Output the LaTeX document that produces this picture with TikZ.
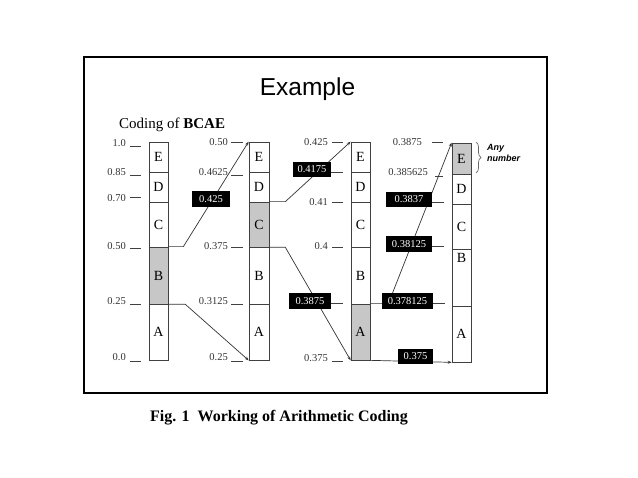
\documentclass[tikz,border=0pt]{standalone}
\usepackage{fontspec}
\setmainfont{Liberation Serif}
\newfontfamily\sansf{Liberation Sans}
\usetikzlibrary{arrows.meta,calc,decorations.pathreplacing}

\begin{document}
\begin{tikzpicture}[x=1pt,y=-1pt,
  seg/.style={draw=black!75,line width=0.7pt,inner sep=0pt,font=\fontsize{14}{16}\selectfont},
  val/.style={anchor=east,inner sep=0pt,text=black!80,font=\fontsize{10.5}{12}\selectfont},
  blk/.style={fill=black,text=white,inner sep=0pt,minimum height=15.5pt,font=\fontsize{10.5}{12}\selectfont},
  tick/.style={black!75,line width=0.7pt},
  arr/.style={black!80,line width=0.7pt,-{Stealth[length=4pt,width=3pt]}}]
\useasboundingbox (0,0) rectangle (638,478);
\draw[line width=2pt] (83.5,57) rectangle (547,393);
\node[font=\sansf\fontsize{24.5}{28}\selectfont] (title) at (307.5,89) {Example};
\node[anchor=west,inner sep=0pt,font=\fontsize{15}{18}\selectfont] (head) at (119,125) {Coding of \textbf{BCAE}};
% the four intervals
\foreach \c/\x/\w/\s in {1/158.5/19/B,2/259/20/C,3/360.5/19/A} {
  \foreach \n/\t/\b in {E/142/172,D/172/202,C/202/247,B/247/304,A/304/360} {
    \pgfmathsetmacro\h{\b-\t}
    \ifx\n\s \def\f{black!22}\else\def\f{white}\fi
    \node[seg,fill=\f,minimum width=\w pt,minimum height=\h pt] (c\c\n) at (\x,{(\t+\b)/2}) {\n};
  }
}
\node[seg,fill=black!22,minimum width=19pt,minimum height=31pt] (c4E) at (461.5,158.5) {E};
\node[seg,minimum width=19pt,minimum height=30pt] (c4D) at (461.5,189) {D};
\node[seg,minimum width=19pt,minimum height=45pt] (c4C) at (461.5,226.5) {C};
\node[seg,minimum width=19pt,minimum height=57pt,text height=12pt,text depth=41pt,inner ysep=2pt] (c4B) at (461.5,277.5) {B};
\node[seg,minimum width=19pt,minimum height=56pt] (c4A) at (461.5,334) {A};
% scale values
\foreach \t/\y/\d [count=\i] in {1.0/143/146,0.85/172/175,0.70/198/197,0.50/246/248,0.25/301/304,0.0/357/361} {
  \node[val] (v1\i) at (126,\y) {\t};
  \draw[tick] (130,\d) -- (141,\d);
}
\foreach \t/\y/\d [count=\i] in {0.50/142/142,0.4625/172/175,0.375/246/247,0.3125/301/304,0.25/357/361} {
  \node[val] (v2\i) at (228,\y) {\t};
  \draw[tick] (231,\d) -- (243,\d);
}
\foreach \t/\y/\d [count=\i] in {0.425/142/142,0.41/202/202,0.4/246/247,0.375/358/361} {
  \node[val] (v3\i) at (328,\y) {\t};
  \draw[tick] (332,\d) -- (343,\d);
}
\node[val] (v41) at (422,142) {0.3875};
\draw[tick] (432,142) -- (443,142);
\node[val] (v42) at (428,172) {0.385625};
\draw[tick] (435,176) -- (443,176);
\foreach \y/\a/\b in {172/331/343,303/331/343,202/432/444,246/432/444,303/433/445} \draw[tick] (\a,\y) -- (\b,\y);
% mapping of the chosen interval
\draw[arr] (c1B.north east) -- ++(15,0) -- (c2E.north west);
\draw[arr] (c1B.south east) -- ++(17,0) -- (c2A.south west);
\draw[arr] (c2C.north east) -- ++(16,0) -- (c3E.north west);
\draw[arr] (c2C.south east) -- ++(16,0) -- (c3A.south west);
\draw[arr] (c3A.north east) -- ++(18,0) -- (c4E.north west);
\draw[arr] (c3A.south east) -- (c4A.south west);
% tags
\node[blk,minimum width=38pt] (b1) at (211,199) {0.425};
\node[blk,minimum width=38pt] (b2) at (312,169.5) {0.4175};
\node[blk,minimum width=42pt] (b3) at (310,301) {0.3875};
\node[blk,minimum width=46pt] (b4) at (409,199.5) {0.3837};
\node[blk,minimum width=46pt] (b5) at (409,244) {0.38125};
\node[blk,minimum width=51pt] (b6) at (407.5,301) {0.378125};
\node[blk,minimum width=35pt] (b7) at (415.5,356.5) {0.375};
\draw[black!60,line width=0.7pt,decorate,decoration={brace,amplitude=5pt}] (476,142) -- (476,173);
\node[anchor=north west,inner sep=0pt,align=left,font=\sansf\bfseries\itshape\fontsize{9}{11}\selectfont] (anyn) at (487,144) {Any\\number};
\node[font=\bfseries\fontsize{16}{19}\selectfont] (cap) at (279,418) {Fig. 1\ \ Working of Arithmetic Coding};
\end{tikzpicture}
\end{document}
